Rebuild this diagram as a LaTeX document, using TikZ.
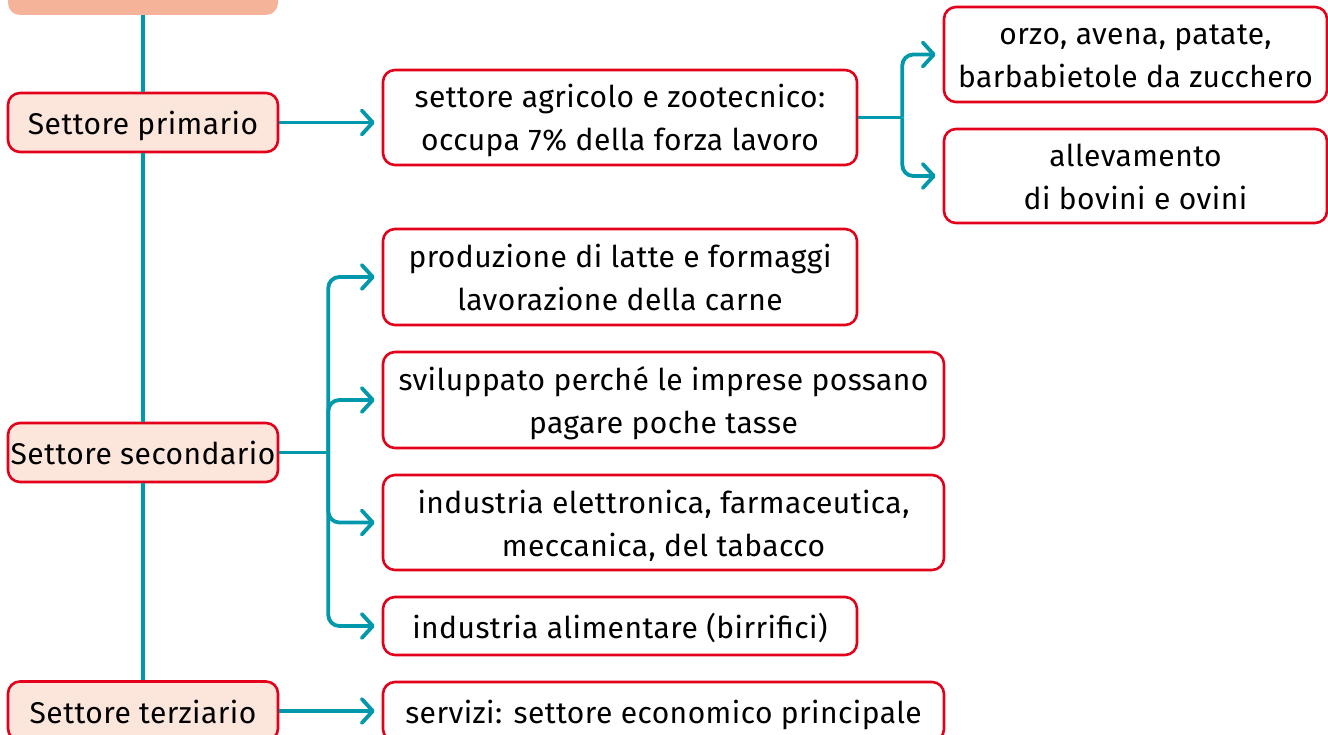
\documentclass[tikz,border=0pt]{standalone}
\usepackage{fontspec}
\setmainfont[LetterSpace=1.5]{Fira Sans}
\usetikzlibrary{arrows.meta}
\definecolor{tealline}{RGB}{0,152,170}
\definecolor{boxred}{RGB}{226,0,26}
\definecolor{pinkfill}{RGB}{252,230,220}
\definecolor{orangefill}{RGB}{245,180,154}
\newcommand\st{\rule[-9pt]{0pt}{42pt}}
\tikzset{
  box/.style={draw=boxred, line width=2.6pt, rounded corners=12pt, inner sep=0pt, align=center,
    font=\fontsize{30}{43}\selectfont, text=black},
  sector/.style={box, fill=pinkfill, minimum width=270pt, minimum height=59pt},
  conn/.style={draw=tealline, line width=3.8pt},
  arr/.style={conn, -{Straight Barb[length=11pt,width=24pt,round]}, shorten >=7pt},
  bus/.style={arr, rounded corners=11pt}
}
\begin{document}
\begin{tikzpicture}[x=1pt,y=-1pt]
\useasboundingbox (0,0) rectangle (1328,735);
\clip (0,0) rectangle (1328,735);
% top header box (cut off)
\node[fill=orangefill, rounded corners=12pt, minimum width=270pt, minimum height=60pt, inner sep=0pt] (top) at (143,-15) {};
% sectors
\node[sector] (prim) at (143,122.5) {\st Settore primario};
\node[sector] (sec) at (143,452.5) {\st Settore secondario};
\node[sector] (ter) at (143,711) {\st Settore terziario};
% detail boxes
\node[box, minimum width=474pt, minimum height=95pt] (agri) at (620,117.5) {\st settore agricolo e zootecnico:\\\st occupa 7\% della forza lavoro};
\node[box, minimum width=383pt, minimum height=95pt] (orzo) at (1135.5,54.5) {\st orzo, avena, patate,\\\st barbabietole da zucchero};
\node[box, minimum width=383pt, minimum height=94pt] (alle) at (1135.5,176) {\st allevamento\\\st di bovini e ovini};
\node[box, minimum width=474pt, minimum height=96pt] (latte) at (620,277) {\st produzione di latte e formaggi\\\st lavorazione della carne};
\node[box, minimum width=561pt, minimum height=96pt] (svil) at (663.5,400) {\st sviluppato perché le imprese possano\\\st pagare poche tasse};
\node[box, minimum width=561pt, minimum height=95pt] (elet) at (663.5,522.5) {\st industria elettronica, farmaceutica,\\\st meccanica, del tabacco};
\node[box, minimum width=474pt, minimum height=58pt] (alim) at (620,626) {\st industria alimentare (birrifici)};
\node[box, minimum width=561pt, minimum height=59pt] (serv) at (663.5,711.5) {\st servizi: settore economico principale};
% spine
\draw[conn] (top.south) -- (prim.north);
\draw[conn] (prim.south) -- (sec.north);
\draw[conn] (sec.south) -- (ter.north);
% primary
\draw[arr] (prim.east) -- (prim.east -| agri.west);
\path (agri.east) ++(44,0) coordinate (b1);
\draw[conn] (agri.east) -- (b1);
\draw[bus] (b1) |- (orzo.west);
\draw[bus] (b1) |- (alle.west);
% secondary
\path (sec.east) ++(49,0) coordinate (b2);
\draw[conn] (sec.east) -- (b2);
\draw[bus] (b2) |- (latte.west);
\draw[bus] (b2) |- (svil.west);
\draw[bus] (b2) |- (elet.west);
\draw[bus] (b2) |- (alim.west);
% tertiary
\draw[arr] (ter.east) -- (ter.east -| serv.west);
\end{tikzpicture}
\end{document}
